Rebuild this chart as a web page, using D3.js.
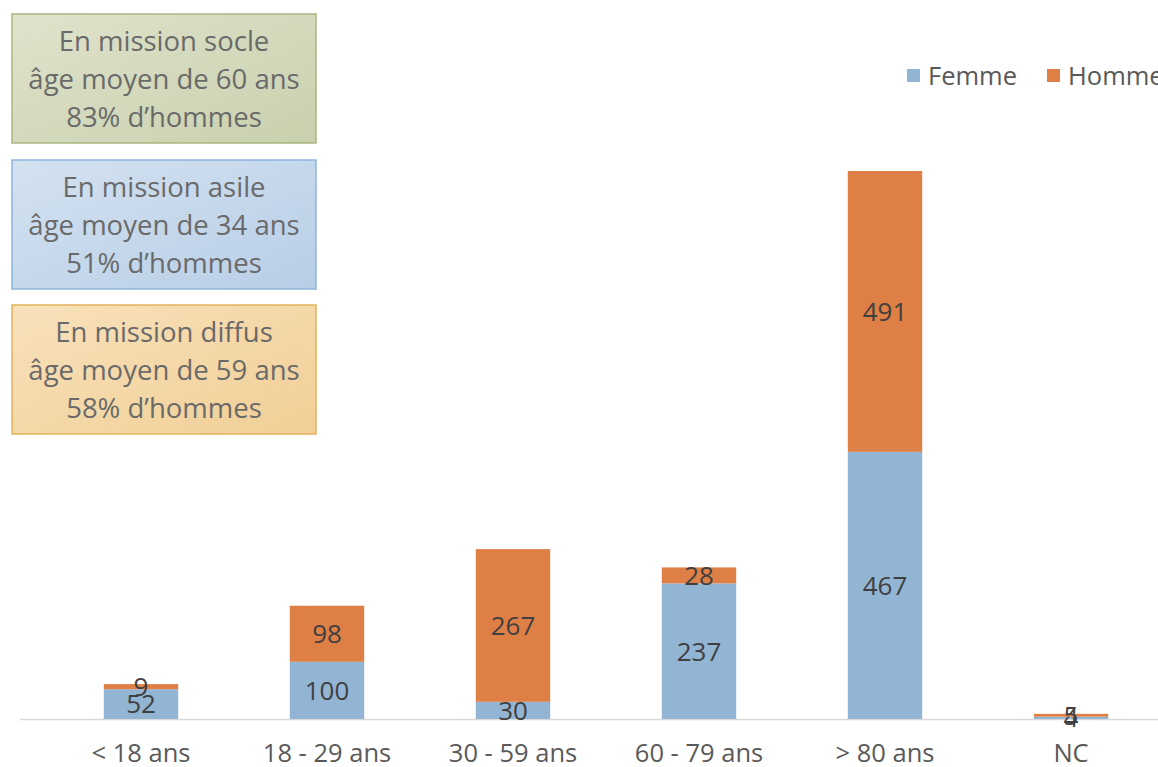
<!DOCTYPE html>
<html>
<head>
<meta charset="utf-8">
<script src="https://cdn.jsdelivr.net/npm/d3@7"></script>
<style>
  body { margin: 0; background: #fff; }
  svg { font-family: "Open Sans", Lato, sans-serif; }
</style>
</head>
<body>
<svg width="1158" height="767"></svg>
<script>
// chart values
const categories = ["< 18 ans", "18 - 29 ans", "30 - 59 ans", "60 - 79 ans", "> 80 ans", "NC"];
const femme = [52, 100, 30, 237, 467, 4];
const homme = [9, 98, 267, 28, 491, 5];
const seriesNames = ["Femme", "Homme"];
const boxLines = [
    ["En mission socle", "âge moyen de 60 ans", "83% d’hommes"],
    ["En mission asile", "âge moyen de 34 ans", "51% d’hommes"],
    ["En mission diffus", "âge moyen de 59 ans", "58% d’hommes"]
];

let svg = d3.select("svg");
let colors = {Femme: "#93b5d4", Homme: "#de7f46"};
let baseY = 719;

let rows = categories.map((c, i) => ({cat: c, Femme: femme[i], Homme: homme[i]}));
let stacked = d3.stack().keys(seriesNames)(rows);

let x = d3.scaleBand()
    .domain(categories)
    .range([48, 1164])
    .paddingInner(0.6)
    .paddingOuter(0.3);

let y = d3.scaleLinear()
    .domain([0, 958])
    .range([baseY, 171]);

// baseline
svg.append("line")
    .attr("x1", 20).attr("x2", 1158)
    .attr("y1", baseY + 0.5).attr("y2", baseY + 0.5)
    .attr("stroke", "#d9d9d9")
    .attr("stroke-width", 1.5);

let layers = svg.selectAll("g.layer")
    .data(stacked)
    .enter().append("g")
    .attr("class", "layer")
    .attr("fill", d => colors[d.key]);

layers.selectAll("rect")
    .data(d => d)
    .enter().append("rect")
    .attr("x", d => x(d.data.cat))
    .attr("width", x.bandwidth())
    .attr("y", d => y(d[1]))
    .attr("height", d => y(d[0]) - y(d[1]));

layers.selectAll("text")
    .data(d => d.map(v => ({v: v, key: d.key})))
    .enter().append("text")
    .attr("x", d => x(d.v.data.cat) + x.bandwidth() / 2)
    .attr("y", d => (y(d.v[0]) + y(d.v[1])) / 2)
    .attr("dy", "0.36em")
    .attr("text-anchor", "middle")
    .attr("fill", "#404040")
    .style("font-size", "26px")
    .text(d => d.v.data[d.key]);

// category axis
let axis = svg.append("g")
    .attr("transform", `translate(0,${baseY})`)
    .call(d3.axisBottom(x).tickSize(0).tickPadding(25));
axis.select(".domain").remove();
axis.selectAll("text")
    .attr("fill", "#595959")
    .style("font-size", "25.5px")
    .style("font-family", "'Open Sans', Lato, sans-serif");

// legend
let legend = svg.append("g");
let legendX = [907, 1047];
seriesNames.forEach((s, i) => {
    legend.append("rect")
        .attr("x", legendX[i]).attr("y", 69)
        .attr("width", 13).attr("height", 13)
        .attr("fill", colors[s]);
    legend.append("text")
        .attr("x", legendX[i] + 21).attr("y", 76)
        .attr("dy", "0.36em")
        .attr("fill", "#595959")
        .style("font-size", "25.5px")
        .text(s);
});

// info boxes
let boxStyles = [
    {fill1: "#dfe3cc", fill2: "#c9d0ad", stroke: "#a8b67f"},
    {fill1: "#d3e2f1", fill2: "#b8cee6", stroke: "#8fb4db"},
    {fill1: "#f8e1bb", fill2: "#f1cf96", stroke: "#e4b25c"}
];
let boxTop = [14, 160, 305];
let defs = svg.append("defs");
boxStyles.forEach((b, i) => {
    let grad = defs.append("linearGradient")
        .attr("id", "grad" + i)
        .attr("x1", "0").attr("y1", "0").attr("x2", "1").attr("y2", "1");
    grad.append("stop").attr("offset", "0%").attr("stop-color", b.fill1);
    grad.append("stop").attr("offset", "100%").attr("stop-color", b.fill2);

    let g = svg.append("g").attr("transform", `translate(12,${boxTop[i]})`);
    g.append("rect")
        .attr("width", 304).attr("height", 129)
        .attr("fill", `url(#grad${i})`)
        .attr("stroke", b.stroke)
        .attr("stroke-width", 1.5);
    g.selectAll("text")
        .data(boxLines[i])
        .enter().append("text")
        .attr("x", 152)
        .attr("y", (d, j) => 27 + j * 38)
        .attr("dy", "0.36em")
        .attr("text-anchor", "middle")
        .attr("fill", "#6a6a6a")
        .style("font-size", "27.5px")
        .text(d => d);
});
</script>
</body>
</html>
